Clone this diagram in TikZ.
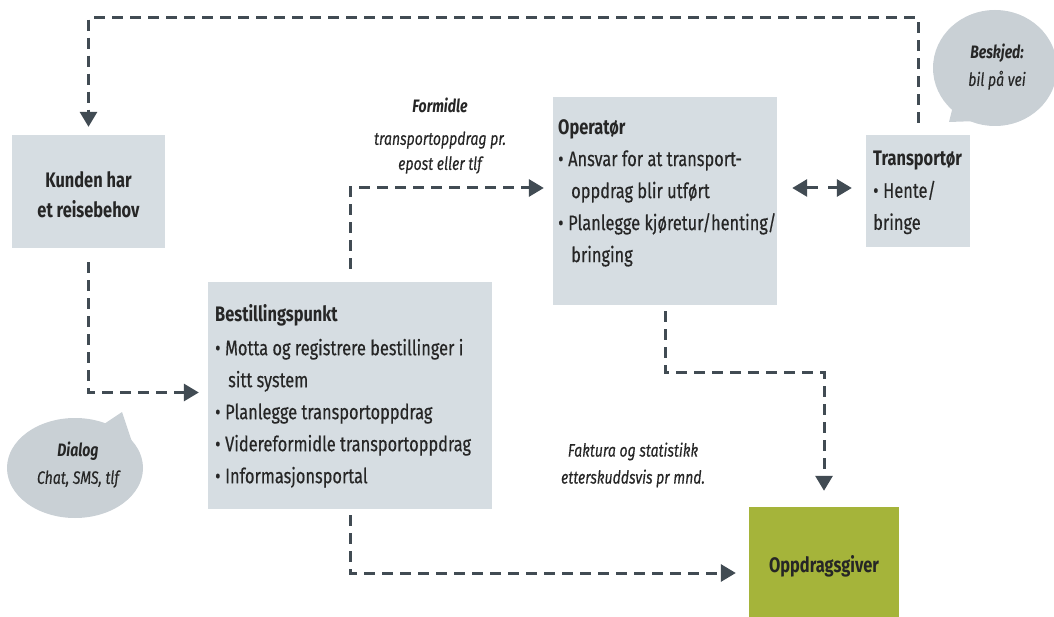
\documentclass[tikz,border=0pt]{standalone}
\usepackage{fontspec}
\setmainfont{Fira Sans}[FakeStretch=0.78,UprightFeatures={FakeBold=0.4},ItalicFeatures={FakeBold=0.3}]
\usetikzlibrary{arrows.meta}
\definecolor{boxgray}{HTML}{D6DDE2}
\definecolor{bubgray}{HTML}{C9D0D5}
\definecolor{oppgreen}{HTML}{A5B43A}
\definecolor{conncol}{HTML}{414B53}
\newcommand\bitem[1]{\makebox[10pt][l]{•}#1}
\newcommand\cont[1]{\hspace*{13pt}#1}
\begin{document}
\begin{tikzpicture}[x=1pt,y=-1pt,
  box/.style={fill=boxgray,draw=none,inner sep=0pt},
  txt/.style={inner sep=0pt,align=left,anchor=north west,text=black!85,font=\fontsize{21}{32}\selectfont},
  lbl/.style={inner sep=0pt,align=center,text=black!85,font=\fontsize{18}{27}\selectfont\itshape},
  conn/.style={draw=conncol,line width=3pt,dash pattern=on 11pt off 7pt,-{Triangle[length=15pt,width=17pt]}},
  bub/.style={fill=bubgray,draw=none}]
\useasboundingbox (0,0) rectangle (1054,617);
% boxes
\node[box,minimum width=153pt,minimum height=113pt] (kund) at (88.5,191.5) {};
\node[box,minimum width=284pt,minimum height=227pt] (best) at (350,395.5) {};
\node[box,minimum width=224pt,minimum height=208pt] (oper) at (665,201) {};
\node[box,minimum width=104pt,minimum height=112pt] (trans) at (918,191) {};
\node[fill=oppgreen,inner sep=0pt,minimum width=150pt,minimum height=110pt] (opp) at (824,562) {};
% box texts
\node[inner sep=0pt,align=center,font=\fontsize{21}{30}\selectfont\bfseries,text=black!85] (kundt) at (88.5,195) {Kunden har\\et reisebehov};
\node[txt] (bestt) at (215,304) {\textbf{Bestillingspunkt}\\[2pt]
  \bitem{Motta og registrere bestillinger i}\\
  \cont{sitt system}\\
  \bitem{Planlegge transportoppdrag}\\
  \bitem{Videreformidle transportoppdrag}\\
  \bitem{Informasjonsportal}};
\node[txt] (opert) at (558,119) {\textbf{Operatør}\\
  \bitem{Ansvar for at transport-}\\
  \cont{oppdrag blir utført}\\
  \bitem{Planlegge kjøretur/henting/}\\
  \cont{bringing}};
\node[txt] (transt) at (873,151) {\textbf{Transportør}\\
  \bitem{Hente/}\\
  bringe};
\node[inner sep=0pt,font=\fontsize{21}{30}\selectfont\bfseries,text=black!85] (oppt) at (824,566) {Oppdragsgiver};
% bubbles
\fill[bub] (995,68) ellipse [x radius=62pt,y radius=58pt];
\fill[bub] (955,98) -- (949,122) -- (978,121) -- cycle;
\fill[bub] (75,468) ellipse [x radius=68pt,y radius=50pt];
\fill[bub] (104,424) -- (122,412) -- (134,448) -- cycle;
\node[lbl] (beskjed) at (997,67) {\textbf{Beskjed:}\\bil på vei};
\node[lbl] (dialog) at (78,465) {\textbf{Dialog}\\Chat, SMS, tlf};
% labels
\node[lbl] (formidle) at (440,136) {\textbf{Formidle}\\[5pt]transportoppdrag pr.\\[-2pt]epost eller tlf};
\node[lbl] (faktura) at (633,465) {Faktura og statistikk\\etterskuddsvis pr mnd.};
% connectors
\coordinate (top) at (0,18);
\coordinate (mid5) at (0,372);
\draw[conn,shorten <=12pt,shorten >=8pt] (trans.north) -- (trans.north |- top) -- (kund.north |- top) -- (kund.north);
\draw[conn,shorten <=14pt,shorten >=9pt] (kund.south) |- ([yshift=3pt]best.west);
\draw[conn,shorten <=13pt,shorten >=9pt] (best.north) |- ([yshift=13pt]oper.west);
\draw[conn,{Triangle[length=15pt,width=17pt]}-{Triangle[length=15pt,width=17pt]},shorten <=15pt,shorten >=14pt,dash pattern=on 12pt off 10pt] ([yshift=13pt]oper.east) -- ([yshift=13pt]oper.east -| trans.west);
\draw[conn,shorten <=6pt,shorten >=16pt] (oper.south) -- (oper.south |- mid5) -- (opp.north |- mid5) -- (opp.north);
\draw[conn,shorten <=6pt,shorten >=13pt] (best.south) |- ([yshift=-11pt]opp.west);
\end{tikzpicture}
\end{document}
